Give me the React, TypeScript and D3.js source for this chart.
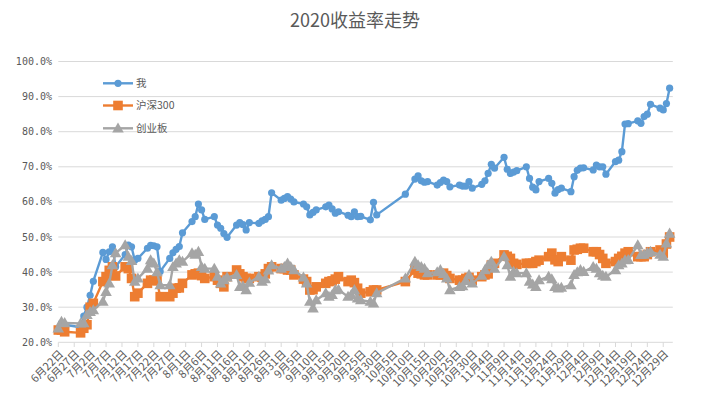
import { useEffect } from "react";
import * as d3 from "d3";

const TITLE = "2020收益率走势";
const SERIES_NAMES = ["我", "沪深300", "创业板"];
const COLORS = ["#5B9BD5", "#ED7D31", "#A5A5A5"];
const Y_TICKS = [20, 30, 40, 50, 60, 70, 80, 90, 100];

// trading days, month-day
const DATES = [
  "06-22", "06-23", "06-24", "06-29", "06-30",
  "07-01", "07-02", "07-03", "07-06", "07-07", "07-08", "07-09", "07-10", "07-13", "07-14", "07-15", "07-16",
  "07-17", "07-20", "07-21", "07-22", "07-23", "07-24", "07-27", "07-28", "07-29", "07-30", "07-31",
  "08-03", "08-04", "08-05", "08-06", "08-07", "08-10", "08-11", "08-12", "08-13", "08-14", "08-17", "08-18",
  "08-19", "08-20", "08-21", "08-24", "08-25", "08-26", "08-27", "08-28", "08-31",
  "09-01", "09-02", "09-03", "09-04", "09-07", "09-08", "09-09", "09-10", "09-11", "09-14", "09-15", "09-16",
  "09-17", "09-18", "09-21", "09-22", "09-23", "09-24", "09-25", "09-28", "09-29", "09-30",
  "10-09", "10-12", "10-13", "10-14", "10-15", "10-16", "10-19", "10-20", "10-21", "10-22", "10-23", "10-26",
  "10-27", "10-28", "10-29", "10-30",
  "11-02", "11-03", "11-04", "11-05", "11-06", "11-09", "11-10", "11-11", "11-12", "11-13", "11-16", "11-17",
  "11-18", "11-19", "11-20", "11-23", "11-24", "11-25", "11-26", "11-27", "11-30",
  "12-01", "12-02", "12-03", "12-04", "12-07", "12-08", "12-09", "12-10", "12-11", "12-14", "12-15", "12-16",
  "12-17", "12-18", "12-21", "12-22", "12-23", "12-24", "12-25", "12-28", "12-29", "12-30", "12-31",
];

const WO = [
  23.5, 25.5, 25, 24.3, 27.5,
  30, 33.4, 37.4, 45.6, 43.6, 45.8, 47.2, 41.5, 45, 47.7, 47.2, 43.4, 43.9, 46.8, 47.6, 47.5, 47.2, 40.2, 43.9, 45.5, 46.5, 47.3, 51.2,
  54.4, 55.8, 59.4, 57.7, 55, 55.8, 53.4, 52.5, 51, 49.9, 53.4, 54.1, 53.5, 52, 54.1, 53.9, 54.6, 55, 55.8, 62.6, 60.5,
  61, 61.5, 60.8, 60, 59.4, 58.6, 56.3, 57, 57.7, 58.6, 59.1, 58, 56.8, 57.2, 56.2, 55.8, 57.2, 55.8, 55.9, 54.9, 59.9, 56.3,
  62.2, 66.5, 67.4, 66, 65.6, 65.8, 64.8, 65.5, 66.2, 65.8, 64.3, 64.8, 64.5, 64.5, 65.8, 63.9,
  65, 66, 68.1, 70.7, 69.6, 72.7, 69.3, 68.1, 68.5, 68.9, 70, 66.7, 64.2, 63.4, 65.8, 66.7, 65.3, 62.5, 63.5, 63.9, 62.9,
  67.2, 69, 69.6, 69.7, 69.1, 70.5, 70, 70, 67.9, 71.5, 71.9, 74.3, 82.2, 82.3, 83.1, 82.4, 84.3, 85, 87.8, 86.7, 86.2, 88, 92.4,
];

const HS300 = [
  23.5, 23.5, 23, 22.7, 24,
  25, 30, 31.1, 37.3, 38.7, 40.5, 41.5, 38.9, 41.5, 41, 38.2, 33, 34, 36.8, 37.7, 37.7, 37.5, 33, 33, 34, 35.4, 35.5, 36.8,
  39.2, 39.5, 39.7, 39, 38.2, 38.7, 37.7, 36.8, 35.8, 38.7, 40.6, 39.5, 38.7, 38.2, 38.2, 38.7, 38.5, 39.5, 41, 41.5, 41,
  41, 40.6, 40.6, 39.2, 38, 37.3, 34.9, 35, 35.8, 36.8, 37.3, 37.5, 38, 38.7, 37.3, 37.7, 37, 35.4, 34, 34.4, 34.9, 34.9,
  37.3, 40.6, 39.7, 39.5, 39.2, 39.2, 39.2, 39.2, 39.7, 39, 38.2, 37.7, 37.7, 38.2, 38.5, 37.7,
  38.7, 39.2, 39.5, 42, 42.5, 44.9, 44.5, 43.9, 42.5, 42.2, 42.5, 42.5, 42.5, 43, 43.4, 44.4, 45.4, 43.5, 43, 44.4, 43.4,
  46.3, 46.5, 46.8, 46.8, 45.8, 45.8, 45, 43.9, 42.5, 43, 43.9, 44.5, 45.4, 45.8, 44.4, 44.4, 44.4, 45, 45.8, 46.3, 45.4, 48, 50,
];

const CYB = [
  24, 25.9, 25.5, 25.4, 25.5,
  27.8, 28.7, 29.2, 31.6, 34.4, 36.8, 42, 45.4, 47.7, 44.4, 43.2, 37.3, 38.2, 41, 43.4, 42.5, 40, 36.3, 36.3, 41.5, 42.5, 43.4, 43,
  45.4, 45, 45.8, 41.5, 41, 41, 38.7, 36.8, 37.7, 38.5, 39.2, 35.8, 36, 34.9, 37, 38.7, 37.3, 38, 40.5, 42, 41,
  41.5, 42.5, 41.5, 40.6, 38.5, 36.8, 31.6, 29.7, 32, 34, 33, 33.5, 34.9, 35, 33, 33.5, 34.9, 32.5, 32, 31.6, 31.1, 34,
  38.2, 43, 42, 41.5, 41, 39.7, 40, 40.6, 39.5, 38.2, 34.9, 35.8, 36, 37.5, 39.2, 36.8,
  39, 40.6, 42, 43, 41, 44.4, 42, 38.7, 40.1, 39.7, 39.7, 37.3, 36.5, 35.8, 37.7, 38.7, 38, 35.8, 35.4, 35.6, 36.3,
  39.2, 40, 40.6, 40.1, 41.5, 41, 39.7, 39, 38.7, 40.6, 42, 42.5, 43.4, 43.5, 47.7, 44.9, 45, 45.5, 45.8, 45, 44.4, 48.2, 51,
];

const parseDay = (s: string) => {
  const [m, d] = s.split("-").map(Number);
  return new Date(Date.UTC(2020, m - 1, d));
};

const FONT = "'Noto Sans CJK SC', 'DejaVu Sans', sans-serif";
const TEXT = "#595959";
const GRID = "#D9D9D9";

export default function App() {
  useEffect(() => {
    document.body.style.margin = "0";
  }, []);

  const W = 715;
  const H = 411;
  const start = parseDay("06-22");
  const x = d3.scaleUtc().domain([start, new Date(Date.UTC(2021, 0, 1))]).range([58.3, 672.8]);
  const y = d3.scaleLinear().domain([20, 100]).range([342.3, 61.5]);

  const dates = DATES.map(parseDay);
  const series = [WO, HS300, CYB].map((vals, i) => ({
    name: SERIES_NAMES[i],
    color: COLORS[i],
    points: vals.map((v, j) => ({ date: dates[j], v })),
  }));

  const line = d3
    .line<{ date: Date; v: number }>()
    .x((p) => x(p.date))
    .y((p) => y(p.v));

  const xTicks = d3.range(0, 39).map((k) => d3.utcDay.offset(start, k * 5));
  const tri = d3.symbol().type(d3.symbolTriangle).size(58)() as string;

  const marker = (i: number, cx: number, cy: number, key: number) => {
    if (i === 0) return <circle key={key} cx={cx} cy={cy} r={3.6} fill={COLORS[0]} />;
    if (i === 1) return <rect key={key} x={cx - 4.8} y={cy - 4.8} width={9.6} height={9.6} fill={COLORS[1]} />;
    return <path key={key} d={tri} transform={`translate(${cx},${cy + 0.8})`} fill={COLORS[2]} />;
  };

  const legendY = [83.3, 105.5, 128.3];

  return (
    <svg width={W} height={H} style={{ position: "absolute", left: 0, top: 0, background: "#fff" }} fontFamily={FONT}>
      <text x={355} y={27} textAnchor="middle" fontSize={18} fill={TEXT}>
        {TITLE}
      </text>

      {Y_TICKS.map((t) => (
        <g key={t}>
          <line x1={58.3} x2={672.8} y1={y(t)} y2={y(t)} stroke={GRID} strokeWidth={1} />
          <text
            x={52}
            y={y(t)}
            dy="0.35em"
            textAnchor="end"
            fontSize={10}
            fill={TEXT}
            fontFamily="'DejaVu Sans Mono', monospace"
          >
            {t.toFixed(1)}%
          </text>
        </g>
      ))}

      {xTicks.map((t, k) => (
        <g key={k}>
          <line x1={x(t)} x2={x(t)} y1={342.3} y2={347} stroke={GRID} />
          <text
            transform={`translate(${x(t) + 3},${352}) rotate(-45)`}
            textAnchor="end"
            dy="0.35em"
            fontSize={11}
            fill={TEXT}
          >
            {`${t.getUTCMonth() + 1}月${t.getUTCDate()}日`}
          </text>
        </g>
      ))}

      {series.map((s, i) => (
        <g key={s.name}>
          <path d={line(s.points) as string} fill="none" stroke={s.color} strokeWidth={2.4} strokeLinejoin="round" />
          {s.points.map((p, j) => marker(i, x(p.date), y(p.v), j))}
        </g>
      ))}

      {series.map((s, i) => (
        <g key={"lg" + s.name}>
          <line x1={103} x2={133} y1={legendY[i]} y2={legendY[i]} stroke={s.color} strokeWidth={2.4} />
          {marker(i, 118, legendY[i], -1)}
          <text x={136} y={legendY[i]} dy="0.35em" fontSize={10.5} fill={TEXT}>
            {s.name}
          </text>
        </g>
      ))}
    </svg>
  );
}
